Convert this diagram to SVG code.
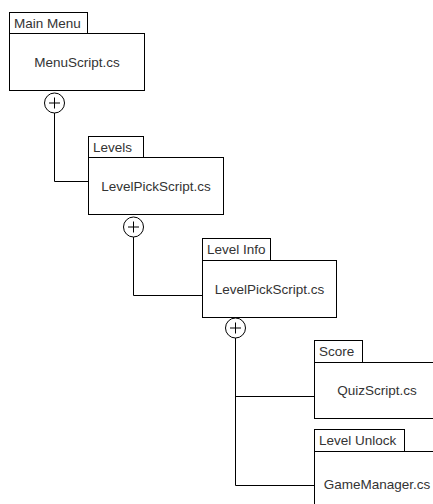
<svg xmlns="http://www.w3.org/2000/svg" width="433" height="504" viewBox="0 0 433 504">
  <style>
    .box { fill: #ffffff; stroke: #000000; stroke-width: 1; }
    .tab { fill: #ffffff; stroke: #000000; stroke-width: 1; }
    .wire { fill: none; stroke: #000000; stroke-width: 1; }
    .plus { fill: #ffffff; stroke: #000000; stroke-width: 1; }
    .label { font-family: "Liberation Sans", Arial, sans-serif; font-size: 13.5px; fill: #333333; }
    .title { font-family: "Liberation Sans", Arial, sans-serif; font-size: 13.5px; fill: #333333; }
  </style>
  <rect width="433" height="504" fill="#ffffff"/>

  <!-- connectors -->
  <g id="connectors">
    <path class="wire" d="M54.5 113 V181.5 H88.5"/>
    <path class="wire" d="M133.5 237 V295.5 H202.5"/>
    <path class="wire" d="M235.5 338 V485.5 H314.5"/>
    <path class="wire" d="M235.5 396.5 H314.5"/>
    <circle class="plus" cx="54.5" cy="103" r="10"/>
    <path class="wire" d="M49 103 H60 M54.5 97.5 V108.5"/>
    <circle class="plus" cx="133.5" cy="227" r="10"/>
    <path class="wire" d="M128 227 H139 M133.5 221.5 V232.5"/>
    <circle class="plus" cx="235.5" cy="328" r="10"/>
    <path class="wire" d="M230 328 H241 M235.5 322.5 V333.5"/>
  </g>

  <g id="main-menu">
    <rect class="tab" x="9.5" y="12.5" width="78" height="21"/>
    <text class="title" x="14" y="28">Main Menu</text>
    <rect class="box" x="9.5" y="33.5" width="135" height="57"/>
    <text class="label" x="77" y="67" text-anchor="middle">MenuScript.cs</text>
  </g>

  <g id="levels">
    <rect class="tab" x="88.5" y="136.5" width="55" height="21"/>
    <text class="title" x="93" y="152">Levels</text>
    <rect class="box" x="88.5" y="157.5" width="135" height="57"/>
    <text class="label" x="156" y="191" text-anchor="middle">LevelPickScript.cs</text>
  </g>

  <g id="level-info">
    <rect class="tab" x="202.5" y="238.5" width="68" height="22"/>
    <text class="title" x="207" y="254">Level Info</text>
    <rect class="box" x="202.5" y="260.5" width="134" height="57"/>
    <text class="label" x="269.5" y="294" text-anchor="middle">LevelPickScript.cs</text>
  </g>

  <g id="score">
    <rect class="tab" x="314.5" y="340.5" width="48" height="22"/>
    <text class="title" x="319" y="356">Score</text>
    <rect class="box" x="314.5" y="362.5" width="135" height="56"/>
    <text class="label" x="377" y="395" text-anchor="middle">QuizScript.cs</text>
  </g>

  <g id="level-unlock">
    <rect class="tab" x="314.5" y="429.5" width="90" height="22"/>
    <text class="title" x="319" y="445">Level Unlock</text>
    <rect class="box" x="314.5" y="451.5" width="135" height="57"/>
    <text class="label" x="377" y="489" text-anchor="middle">GameManager.cs</text>
  </g>
</svg>
